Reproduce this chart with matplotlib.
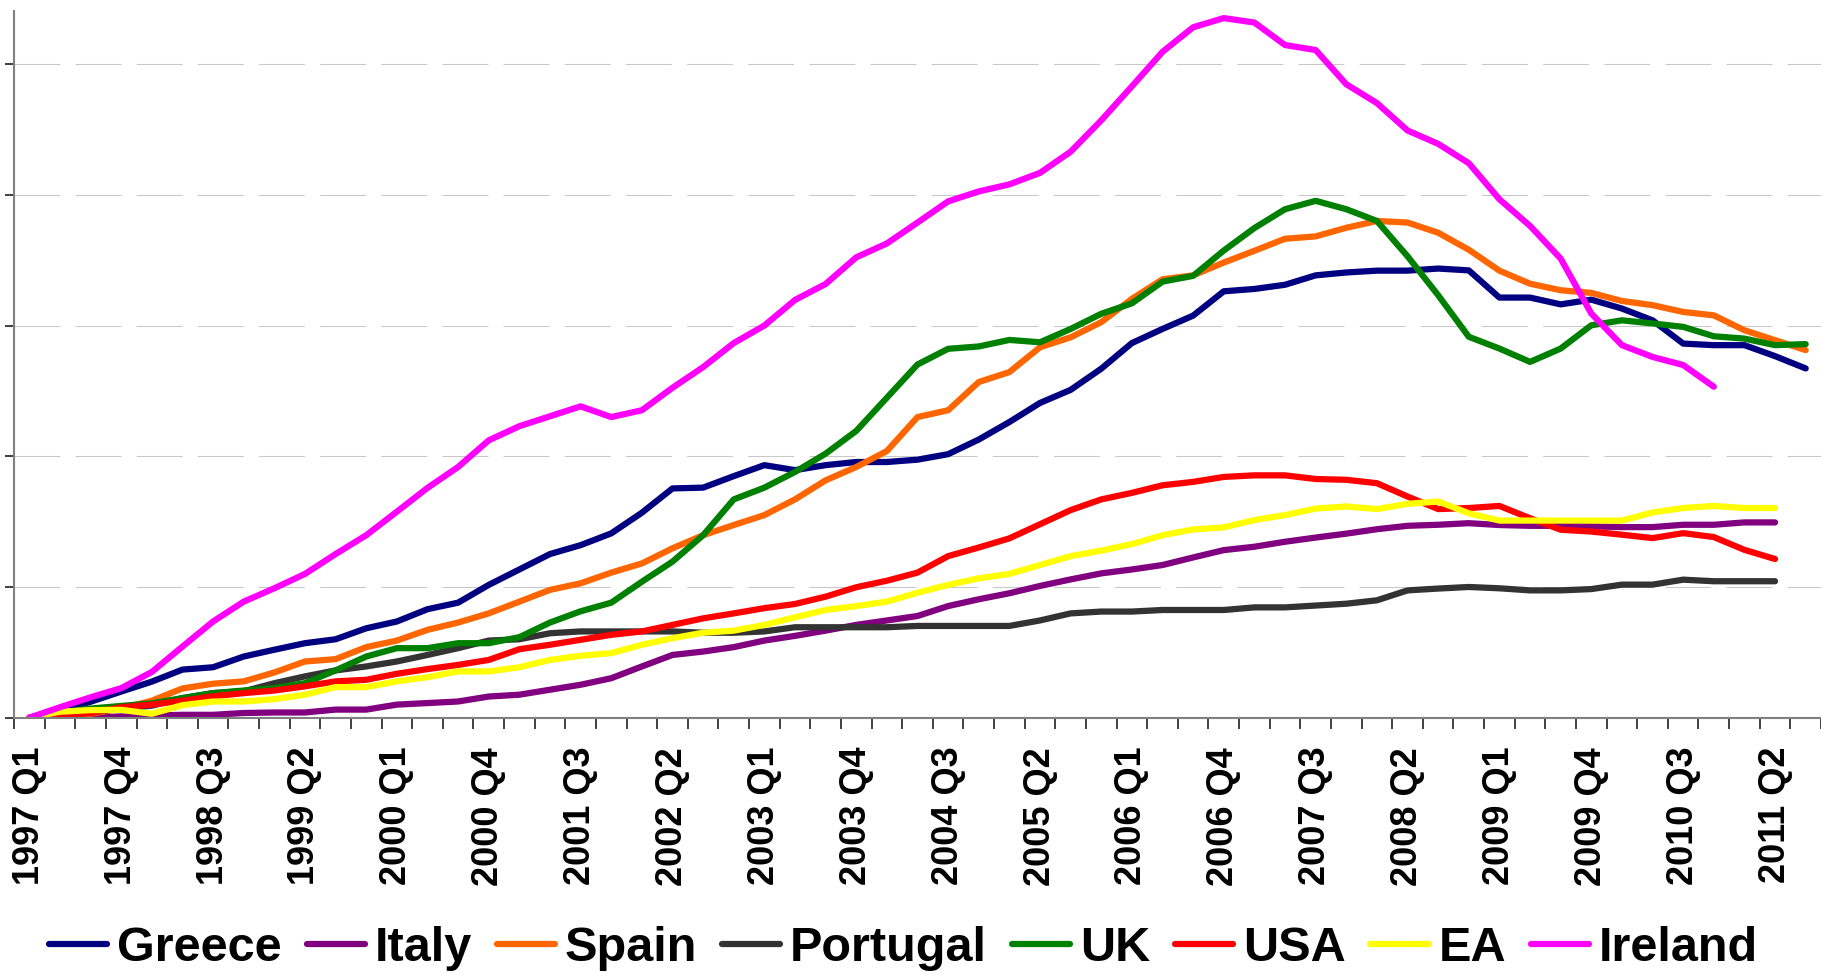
import numpy as np
import matplotlib
matplotlib.use('Agg')
import matplotlib.pyplot as plt

plt.rcParams['font.family'] = ['Liberation Sans', 'DejaVu Sans']

# quarters 1997 Q1 .. 2011 Q3
years = list(range(1997, 2012))
quarters = [f'{y} Q{q}' for y in years for q in range(1, 5)][:59]

# house price change since 1997 Q1 (%)
greece = [0, 2.9, 6.1, 10.0, 13.8, 18.4, 19.3, 23.4, 26.0, 28.5,
          30.0, 34.2, 36.8, 41.5, 44.0, 50.8, 56.7, 62.6, 66.0, 70.5,
          78.4, 87.7, 88.0, 92.4, 96.6, 94.7, 96.6, 97.8, 97.8, 98.7,
          100.8, 106.4, 113.1, 120.4, 125.4, 133.5, 143.3, 148.7, 153.8, 163.1,
          164.0, 165.6, 169.2, 170.3, 171.0, 171.0, 171.8, 171.1, 160.7, 160.7,
          158.1, 159.9, 156.5, 152.0, 143.1, 142.5, 142.5, 138.3, 133.6]
italy = [0, 0, 0, 0.5, 0.8, 1.1, 1.1, 1.8, 2.0, 2.0,
         3.1, 3.1, 5.0, 5.6, 6.2, 8.1, 8.8, 10.7, 12.6, 15.1,
         19.6, 24.0, 25.3, 27.0, 29.5, 31.3, 33.3, 35.5, 37.2, 38.9,
         42.7, 45.3, 47.6, 50.4, 52.9, 55.2, 56.7, 58.4, 61.3, 64.1,
         65.4, 67.3, 68.9, 70.4, 72.1, 73.4, 73.8, 74.4, 73.7, 73.4,
         73.4, 73.2, 72.9, 72.9, 73.8, 73.8, 74.7, 74.7]
spain = [0, 0.5, 1.5, 3.5, 6.5, 11.2, 13.0, 13.9, 17.3, 21.5,
         22.4, 27.0, 29.5, 33.6, 36.4, 39.9, 44.4, 48.9, 51.4, 55.5,
         59.0, 64.8, 69.8, 73.7, 77.5, 83.5, 90.8, 95.9, 102.0, 115.0,
         117.6, 128.4, 132.2, 141.7, 145.5, 151.3, 160.2, 167.7, 169.2, 174.1,
         178.6, 183.2, 184.1, 187.4, 190.0, 189.4, 185.5, 179.0, 171.0, 166.0,
         163.5, 162.5, 159.4, 157.8, 155.2, 153.9, 148.2, 144.4, 140.6]
portugal = [0, 1.0, 2.0, 3.5, 4.6, 7.5, 9.4, 10.1, 13.2, 15.8,
            18.1, 19.6, 21.5, 24.0, 26.6, 29.5, 30.0, 32.3, 33.0, 33.0,
            33.0, 33.0, 32.5, 32.5, 33.0, 34.6, 34.6, 34.6, 34.6, 35.1,
            35.1, 35.1, 35.1, 37.2, 39.9, 40.6, 40.6, 41.2, 41.2, 41.2,
            42.2, 42.2, 42.9, 43.6, 44.9, 48.7, 49.4, 50.0, 49.5, 48.7,
            48.7, 49.2, 50.9, 50.9, 52.8, 52.2, 52.2, 52.2]
uk = [0, 2.0, 3.5, 4.5, 5.5, 7.5, 9.4, 10.4, 11.3, 13.2,
      18.1, 23.4, 26.6, 26.6, 28.5, 28.5, 30.8, 36.4, 40.7, 44.0,
      52.0, 59.7, 69.8, 83.5, 88.0, 94.0, 101.0, 109.7, 122.4, 135.1,
      141.1, 142.0, 144.5, 143.6, 148.7, 154.5, 158.5, 166.8, 169.0, 178.7,
      187.3, 194.5, 197.7, 194.5, 190.0, 176.5, 161.6, 145.7, 141.2, 136.1,
      141.2, 150.1, 152.0, 150.8, 149.5, 145.9, 145.0, 142.5, 142.9]
usa = [0, 0.8, 1.8, 4.0, 5.0, 6.5, 8.2, 9.4, 10.4, 12.0,
       13.9, 14.5, 16.8, 18.6, 20.2, 22.1, 26.2, 27.9, 29.8, 31.7,
       33.0, 35.5, 38.0, 39.9, 41.9, 43.5, 46.3, 49.9, 52.4, 55.5,
       61.8, 65.1, 68.6, 74.0, 79.4, 83.5, 86.0, 88.9, 90.2, 92.1,
       92.7, 92.7, 91.3, 91.0, 89.7, 84.6, 79.8, 80.2, 81.0, 76.3,
       71.9, 71.2, 70.0, 68.7, 70.6, 69.1, 64.2, 60.7]
ea = [0, 2.3, 2.9, 3.0, 1.5, 4.8, 6.2, 6.2, 7.1, 8.8,
      11.7, 11.7, 13.9, 15.5, 17.7, 17.7, 19.3, 22.1, 23.7, 24.7,
      27.9, 30.4, 32.5, 33.3, 35.5, 38.4, 41.2, 42.7, 44.4, 47.8,
      50.8, 53.3, 55.0, 58.4, 61.8, 63.9, 66.4, 69.8, 72.0, 72.8,
      75.6, 77.5, 80.0, 80.8, 79.8, 81.8, 82.7, 78.2, 75.4, 75.4,
      75.4, 75.4, 75.4, 78.5, 80.2, 81.0, 80.2, 80.2]
ireland = [0, 4.0, 7.8, 11.3, 17.5, 27.2, 36.8, 44.4, 49.5, 55.0,
           62.6, 69.8, 78.8, 87.9, 95.9, 106.1, 111.5, 115.3, 119.1, 115.0,
           117.6, 126.2, 134.1, 143.3, 150.0, 159.8, 165.9, 176.1, 181.4, 189.4,
           197.5, 201.3, 204.0, 208.4, 216.5, 228.5, 241.5, 254.7, 264.1, 267.6,
           265.9, 257.3, 255.4, 242.3, 235.1, 224.6, 219.5, 212.1, 198.3, 188.1,
           175.6, 154.6, 142.5, 138.0, 134.9, 126.6]

series = [('Greece', greece, '#000080'),
          ('Italy', italy, '#800080'),
          ('Spain', spain, '#FF6600'),
          ('Portugal', portugal, '#333333'),
          ('UK', uk, '#008000'),
          ('USA', usa, '#FF0000'),
          ('EA', ea, '#FFFF00'),
          ('Ireland', ireland, '#FF00FF')]

fig = plt.figure(figsize=(18.21, 9.77), dpi=100)
ax = fig.add_axes([14 / 1821, 0.2654, 1807 / 1821, 0.7233])

for name, vals, col in series:
    ax.plot(np.arange(len(vals)), vals, color=col, lw=4.5, label=name,
            solid_capstyle='round', solid_joinstyle='round')

ax.set_xlim(-0.5, -0.5 + 1807 / 30.69)
ax.set_ylim(0, 270.3)

# y axis: gridlines only, no labels
ax.set_yticks(np.arange(0, 251, 50))
ax.set_yticklabels([])
ax.yaxis.grid(True, color='#c8c8c8', linewidth=0.75, linestyle=(0, (44, 14.7)))
ax.set_axisbelow(True)
ax.tick_params(axis='y', length=6.5, width=1.4, color='#404040', direction='out')

# x axis: tick marks between categories, labels every 3rd quarter
ax.set_xticks(np.arange(-0.5, 59, 1), minor=True)
ax.set_xticks(np.arange(0, 59, 3))
ax.set_xticklabels(quarters[::3], rotation=90, fontsize=26, fontweight='bold')
ax.tick_params(axis='x', which='major', length=0, pad=21)
ax.tick_params(axis='x', which='minor', length=8, width=1.4, color='#404040',
               direction='out')

for s in ['top', 'right']:
    ax.spines[s].set_visible(False)
for s in ['left', 'bottom']:
    ax.spines[s].set_color('#808080')
    ax.spines[s].set_linewidth(1.5)

leg = fig.legend(loc='center', bbox_to_anchor=(0.4962, 0.029), ncol=8,
                 frameon=False, prop={'size': 35, 'weight': 'bold'},
                 handlelength=1.2, handletextpad=0.2, columnspacing=0.51,
                 borderaxespad=0, borderpad=0)
for h in leg.get_lines():
    h.set_linewidth(4.5)
    h.set_solid_capstyle('round')

fig.savefig('out.png', dpi=100)
